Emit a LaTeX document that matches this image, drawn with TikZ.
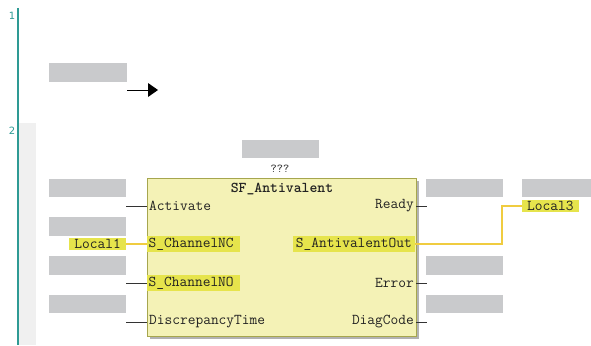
\documentclass[tikz,border=0pt]{standalone}
\usepackage{fontspec}
\setmainfont{DejaVu Sans}
\definecolor{teal1}{HTML}{2E9A94}
\definecolor{band}{HTML}{F0F0F0}
\definecolor{gph}{HTML}{C9CACC}
\definecolor{fbfill}{HTML}{F4F2B6}
\definecolor{fbdraw}{HTML}{A6A64E}
\definecolor{hl}{HTML}{E6E44C}
\definecolor{wire}{HTML}{F0CC40}
\definecolor{txt}{HTML}{222222}
\begin{document}
\begin{tikzpicture}[x=1pt,y=-1pt,
  lbl/.style={font=\ttfamily\fontsize{15}{15}\selectfont,text=txt,inner sep=1pt},
  hlbl/.style={lbl,fill=hl,inner xsep=3pt,inner ysep=1.5pt},
  pin/.style={draw=black!80,line width=0.9pt},
  ywire/.style={draw=wire,line width=2pt},
  num/.style={font=\fontsize{10}{10}\selectfont,text=teal1}]
\useasboundingbox (0,0) rectangle (591,345);
% rung band and rail
\fill[band] (19,123) rectangle (36,345);
\draw[teal1,line width=2pt] (18,8) -- (18,345);
\node[num] (n1) at (12,16) {1};
\node[num] (n2) at (12,131) {2};
% network 1
\fill[gph] (49,63) rectangle (127,82);
\coordinate (a1) at (127,90);
\coordinate (a2) at (149,90);
\draw[line width=1pt] (a1) -- (a2);
\fill (148,83) -- (158,90) -- (148,97) -- cycle;
% network 2 top placeholder
\fill[gph] (242,140) rectangle (319,158);
\node[lbl,font=\ttfamily\fontsize{12}{12}\selectfont] (inst) at (280,169) {???};
% shadow and block
\fill[black!30] (150,181) rectangle (419,339);
\node[draw=fbdraw,fill=fbfill,line width=1.2pt,minimum width=269pt,minimum height=158pt,anchor=north west,inner sep=0pt] (fb) at (147,178) {};
\node[lbl,font=\ttfamily\bfseries\fontsize{15}{15}\selectfont] (title) at (282,189) {SF\_Antivalent};
% placeholders left
\fill[gph] (49,179) rectangle (126,197);
\fill[gph] (49,217) rectangle (126,236);
\fill[gph] (49,256) rectangle (126,275);
\fill[gph] (49,295) rectangle (126,313);
% placeholders right
\fill[gph] (426,179) rectangle (503,197);
\fill[gph] (426,256) rectangle (503,275);
\fill[gph] (426,295) rectangle (503,313);
\fill[gph] (522,179) rectangle (591,197);
% input labels
\node[lbl,anchor=west] (iA) at (148,206) {Activate};
\node[hlbl,anchor=west,inner xsep=1.5pt,align=left,text width=90pt] (iNC) at (147,244) {S\_ChannelNC};
\node[hlbl,anchor=west,inner xsep=1.5pt,align=left,text width=90pt] (iNO) at (147,283) {S\_ChannelNO};
\node[lbl,anchor=west] (iD) at (148,322) {DiscrepancyTime};
% output labels
\node[lbl,anchor=east] (oR) at (415,206) {Ready};
\node[hlbl,anchor=east] (oA) at (415,244) {S\_AntivalentOut};
\node[lbl,anchor=east] (oE) at (415,283) {Error};
\node[lbl,anchor=east] (oD) at (415,322) {DiagCode};
% pins
\coordinate (pA) at (126,206);
\coordinate (pNO) at (126,283);
\coordinate (pD) at (126,322);
\draw[pin] (pA) -- (147,206);
\draw[pin] (pNO) -- (147,283);
\draw[pin] (pD) -- (147,322);
\coordinate (qR) at (427,206);
\coordinate (qE) at (427,283);
\coordinate (qD) at (427,322);
\draw[pin] (416,206) -- (qR);
\draw[pin] (416,283) -- (qE);
\draw[pin] (416,322) -- (qD);
% variables
\node[hlbl,anchor=east,inner xsep=5pt] (loc1) at (126,244) {Local1};
\node[hlbl,anchor=west,inner xsep=5pt] (loc3) at (522,206) {Local3};
\draw[ywire] (loc1.east) -- (iNC.west);
\draw[ywire] (oA.east) -- (502,244) -- (502,206) -- (loc3.west);
\end{tikzpicture}
\end{document}
